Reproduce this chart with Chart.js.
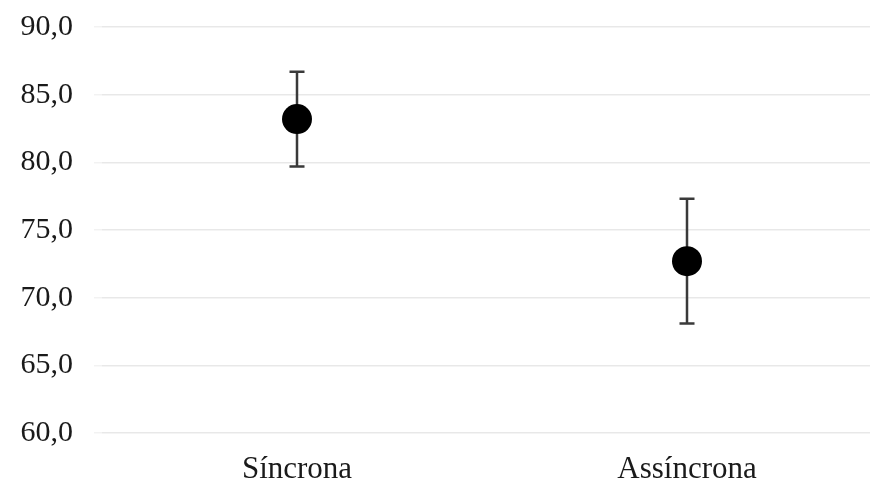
<!DOCTYPE html>
<html>
<head>
<meta charset="utf-8">
<script src="https://cdn.jsdelivr.net/npm/chart.js@4/dist/chart.umd.min.js"></script>
<style>
  html, body { margin: 0; padding: 0; background: #fff; overflow: hidden; }
  #wrap { width: 900px; height: 485px; }
</style>
</head>
<body>
<div id="wrap"><canvas id="c" width="900" height="485"></canvas></div>
<script>
// Grupos e valores (média ± erro)
const categories = ['Síncrona', 'Assíncrona'];
const means = [83.2, 72.7];
const errors = [3.5, 4.6];
const yTicks = [60, 65, 70, 75, 80, 85, 90];

// Barras de erro desenhadas a partir das escalas do gráfico
const errorBars = {
  id: 'errorBars',
  beforeDatasetsDraw(chart) {
    const { ctx, scales: { x, y } } = chart;
    ctx.save();
    ctx.strokeStyle = '#3a3a3a';
    ctx.lineWidth = 2.5;
    means.forEach((m, i) => {
      const px = x.getPixelForValue(i);
      const top = y.getPixelForValue(m + errors[i]);
      const bot = y.getPixelForValue(m - errors[i]);
      const cap = 7.5;
      ctx.beginPath();
      ctx.moveTo(px, top); ctx.lineTo(px, bot);
      ctx.moveTo(px - cap, top); ctx.lineTo(px + cap, top);
      ctx.moveTo(px - cap, bot); ctx.lineTo(px + cap, bot);
      ctx.stroke();
    });
    ctx.restore();
  }
};

new Chart(document.getElementById('c'), {
  type: 'line',
  data: {
    labels: categories,
    datasets: [{
      data: means,
      showLine: false,
      pointRadius: 15,
      pointHoverRadius: 15,
      pointBackgroundColor: '#000',
      pointBorderColor: '#000',
      pointBorderWidth: 0
    }]
  },
  options: {
    responsive: false,
    animation: false,
    events: [],
    layout: { padding: { top: 27, right: 18, left: 0, bottom: 0 } },
    plugins: { legend: { display: false }, tooltip: { enabled: false } },
    scales: {
      x: {
        offset: true,
        grid: { display: false, drawTicks: false },
        border: { display: false },
        ticks: {
          color: '#1a1a1a',
          padding: 18,
          font: { family: 'Liberation Serif', size: 31 }
        },
        afterFit(scale) { scale.height = 52; scale.paddingLeft = 0; scale.paddingRight = 0; }
      },
      y: {
        min: 60,
        max: 90,
        afterBuildTicks(scale) { scale.ticks = yTicks.map(v => ({ value: v })); },
        grid: { color: 'rgba(0,0,0,0.09)', lineWidth: 1.5, tickLength: 8, tickColor: 'rgba(0,0,0,0.05)' },
        border: { display: false },
        ticks: {
          color: '#1a1a1a',
          padding: 21,
          font: { family: 'Liberation Serif', size: 30 },
          callback: (v) => v.toFixed(1).replace('.', ',')
        },
        afterFit(scale) { scale.width = 102; scale.paddingTop = 0; scale.paddingBottom = 0; }
      }
    }
  },
  plugins: [errorBars]
});
</script>
</body>
</html>
